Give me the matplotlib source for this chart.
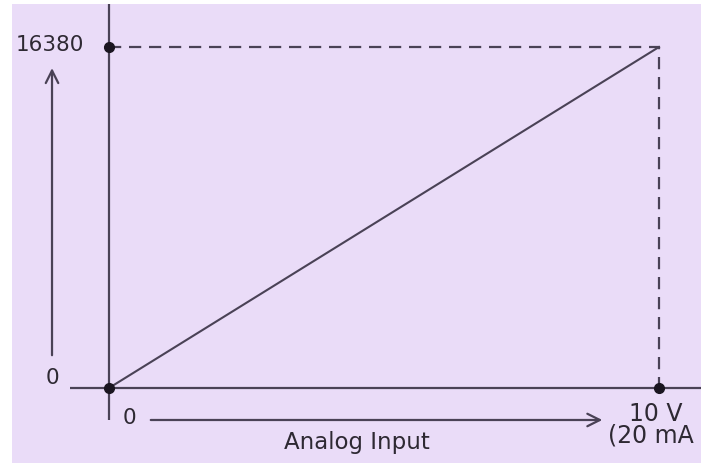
import matplotlib.pyplot as plt

# transfer characteristic of the analog input
input_v = [0, 10]
counts = [0, 16380]
y_labels = ["0", "16380"]
x_labels = ["0", "10 V", "(20 mA"]
x_title = "Analog Input"

line_c = "#4a4256"
txt_c = "#2e2933"
bg = "#eadcf8"

plt.rcParams["font.family"] = ["DejaVu Sans"]

fig = plt.figure(figsize=(7.01, 4.63), dpi=100)
fig.patch.set_facecolor("white")
ax = fig.add_axes([12 / 701, 0, 689 / 701, 459 / 463])
ax.set_facecolor(bg)
# 55 px per volt, 341 px for full scale
ax.set_xlim(-1.7636, 10.7636)
ax.set_ylim(-3603, 18445)
for s in ax.spines.values():
    s.set_visible(False)
ax.set_xticks([])
ax.set_yticks([])

x0, x1 = input_v
y0, y1 = counts

# axes of the diagram
ax.plot([x0, x0], [-1537, 18445], color=line_c, lw=1.6, solid_capstyle="butt")
ax.plot([-0.709, 10.7636], [y0, y0], color=line_c, lw=1.6, solid_capstyle="butt")

# dashed guides to full scale
ax.plot([x0, x1, x1], [y1, y1, y0], color=line_c, lw=1.6, ls=(0, (5.5, 3.5)))

# characteristic line
ax.plot(input_v, counts, color=line_c, lw=1.5)

# points
ax.plot([x0, x0, x1], [y0, y1, y0], "o", color="#1a1520", ms=7, zorder=5)

fs = 15.5
ax.text(-0.45, y1 + 100, y_labels[1], ha="right", va="center", fontsize=fs, color=txt_c)
ax.text(-1.03, 500, y_labels[0], ha="center", va="center", fontsize=fs, color=txt_c)
ax.text(0.37, -1450, x_labels[0], ha="center", va="center", fontsize=fs, color=txt_c)
ax.text(9.945, -1250, x_labels[1], ha="center", va="center", fontsize=17, color=txt_c)
ax.text(9.07, -2300, x_labels[2], ha="left", va="center", fontsize=17, color=txt_c)
ax.text(4.51, -2600, x_title, ha="center", va="center", fontsize=16.5, color=txt_c)

# direction arrows
ax.annotate("", xy=(9.02, -1537), xytext=(0.709, -1537),
            arrowprops=dict(arrowstyle="->,head_length=0.9,head_width=0.45",
                            color=line_c, lw=1.6))
ax.annotate("", xy=(-1.036, 15500), xytext=(-1.036, 1441),
            arrowprops=dict(arrowstyle="->,head_length=0.9,head_width=0.45",
                            color=line_c, lw=1.6))

fig.savefig("out.png", dpi=100, facecolor=fig.get_facecolor())
